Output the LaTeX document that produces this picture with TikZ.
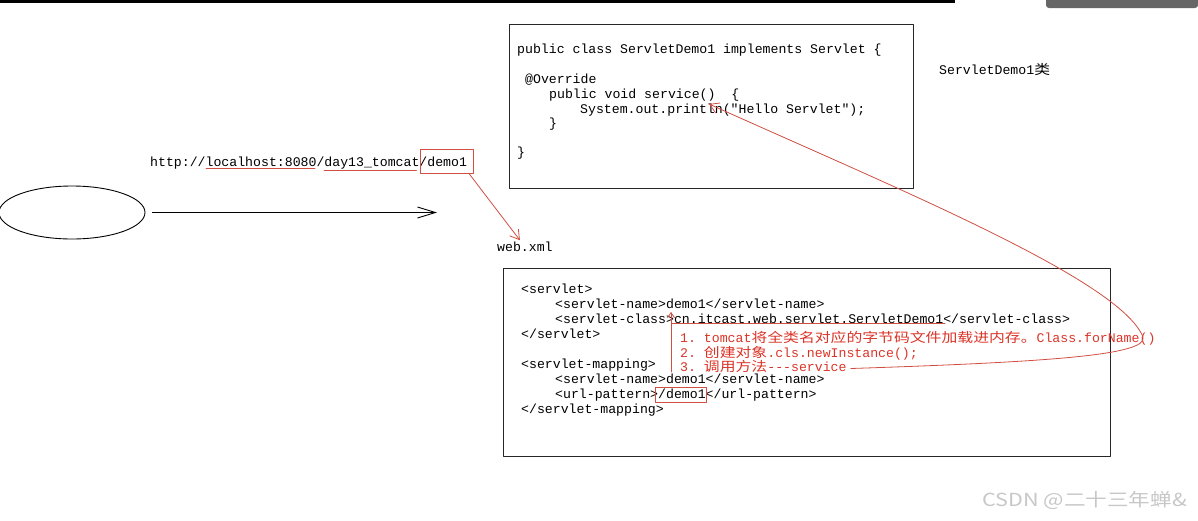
\documentclass[tikz,border=0pt]{standalone}
\usepackage{fontspec}
\setmonofont{Liberation Mono}
\newfontfamily\cjk[FakeStretch=1.2]{Noto Sans CJK SC}
\newfontfamily\wmfont[FakeStretch=1.2]{Noto Sans CJK SC}
\usetikzlibrary{arrows.meta,shapes.geometric}
\definecolor{annored}{RGB}{218,52,40}
\definecolor{annoline}{RGB}{208,78,66}
\newcommand\codefont{\ttfamily\fontsize{13.2}{15}\selectfont}
\tikzset{
  codetext/.style={anchor=base west,inner sep=0pt,font=\codefont},
  redtext/.style={codetext,text=annored},
  codebox/.style={draw=black!85,line width=1.1pt,inner sep=0pt,anchor=north west},
  redbox/.style={draw=annoline,line width=0.8pt,inner sep=0pt,anchor=north west},
  redline/.style={draw=annoline,line width=0.8pt},
  redarrow/.style={redline,-{Straight Barb[length=9pt,width=11pt]}},
  blackarrow/.style={draw=black,line width=0.9pt,-{Straight Barb[length=18pt,width=11pt]}},
}

\begin{document}
\begin{tikzpicture}[x=1pt,y=-1pt,line cap=round,line join=round]
\useasboundingbox (0,0) rectangle (1198,520);
% screen edge
\fill (0,0) rectangle (955,2.5);
\fill[black!60,rounded corners=3pt] (1046,-5) rectangle (1198,8);
% browser side
\node[ellipse,draw,line width=0.9pt,minimum width=146,minimum height=53,inner sep=0pt] (client) at (72,212.5) {};
\coordinate (reqend) at (437,212.5);
\draw[blackarrow,shorten <=7pt] (client.east) -- (reqend);
\node[codetext] (url) at (150,166.5) {http://localhost:8080/day13\_tomcat/demo1};
\draw[redline] (206,168.5) -- (315,168.5);
\draw[redline] (324,170.5) -- (416.5,170.5);
\node[redbox,minimum width=53,minimum height=24] (demobox) at (420,148.5) {};
% servlet class
\node[codebox,minimum width=404,minimum height=164] (classbox) at (509,24) {};
\node[codetext] (cls) at (517,53) {public class ServletDemo1 implements Servlet \{};
\node[codetext] (ovr) at (525,83) {@Override};
\node[codetext] (svc) at (549,98) {public void service()\ \ \{};
\node[codetext] (prt) at (580,113) {System.out.println("Hello Servlet");};
\node[codetext] (svcend) at (549,127) {\}};
\node[codetext] (clsend) at (517,156.5) {\}};
\node[codetext] (clsname) at (939,74) {ServletDemo1{\cjk 类}};
\coordinate (printtip) at (709,104);
% web.xml
\node[codetext] (webxml) at (497,251.5) {web.xml};
\draw[redarrow] ([xshift=-5pt]demobox.south east) -- ([xshift=-5pt,yshift=1.5pt]webxml.north);
\node[codebox,minimum width=607,minimum height=188] (xmlbox) at (503,268) {};
\node[codetext] (sv) at (521,293) {<servlet>};
\node[codetext] (svname) at (555,308) {<servlet-name>demo1</servlet-name>};
\node[codetext] (svclass) at (555,323) {<servlet-class>cn.itcast.web.servlet.ServletDemo1</servlet-class>};
\node[codetext] (svend) at (521,338) {</servlet>};
\node[codetext] (map) at (521,368) {<servlet-mapping>};
\node[codetext] (mapname) at (555,383.5) {<servlet-name>demo1</servlet-name>};
\node[codetext] (urlpat) at (555,398.5) {<url-pattern>/demo1</url-pattern>};
\node[codetext] (mapend) at (521,413) {</servlet-mapping>};
\node[redbox,minimum width=51,minimum height=15.5] (patbox) at (655,386.5) {};
% what tomcat does
\draw[redline] (672,323.5) -- (945,323.5);
\coordinate (brktop) at (671,312);
\coordinate (brkbot) at (671,372);
\draw[redline,-{Straight Barb[length=5pt,width=7pt]}] (brkbot) -- (brktop);
\node[redtext] (step1) at (680,342) {1. tomcat{\cjk 将全类名对应的字节码文件加载进内存。}Class.forName()};
\node[redtext] (step2) at (680,357) {2. {\cjk 创建对象}.cls.newInstance();};
\node[redtext] (step3) at (680,371.5) {3. {\cjk 调用方法}---service};
\draw[redarrow] ([shift={(4pt,3pt)}]step3.base east) .. controls (1050,362) and (1148,355) .. (1143,337)
  .. controls (1120,280) and (900,190) .. (printtip);
% watermark
\node[anchor=base west,inner sep=0pt,text=black!22,font=\wmfont\fontsize{18}{20}\selectfont] (mark) at (982,506) {CSDN @二十三年蝉\&};
\end{tikzpicture}
\end{document}
